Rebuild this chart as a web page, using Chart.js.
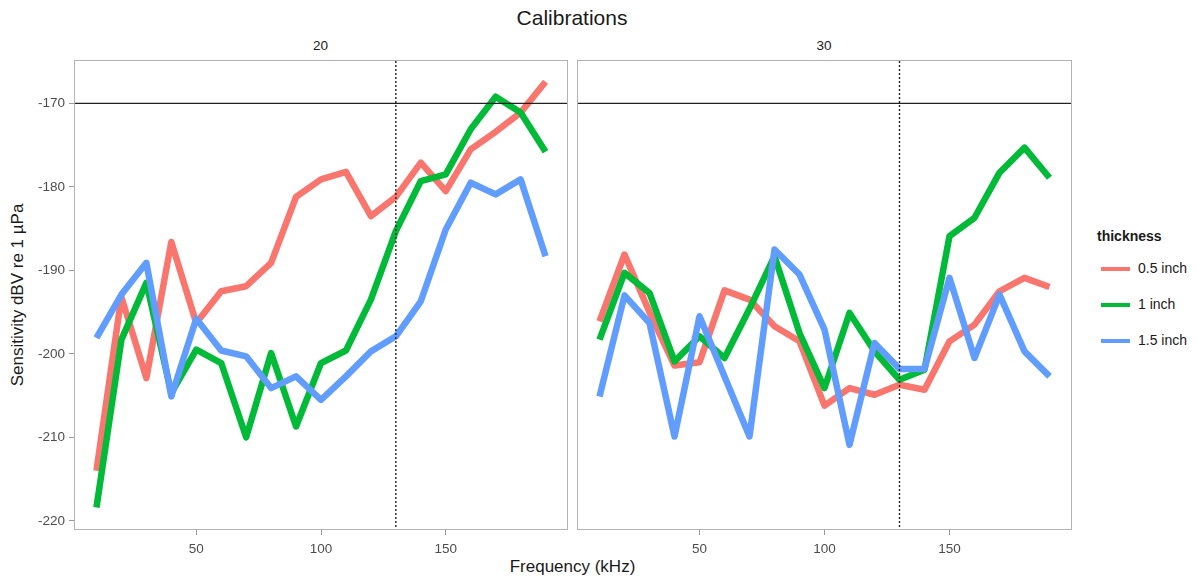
<!DOCTYPE html>
<html>
<head>
<meta charset="utf-8">
<script src="https://cdn.jsdelivr.net/npm/chart.js@4"></script>
<style>
  body { margin: 0; background: #fff; font-family: "Liberation Sans", Arial, sans-serif; }
  #wrap { position: relative; width: 1198px; height: 580px; }
  canvas { position: absolute; top: 0; }
  .txt { position: absolute; color: #1a1a1a; white-space: nowrap; }
  .sw { position: absolute; width: 29px; height: 4px; }
</style>
</head>
<body>
<div id="wrap">
  <div class="txt" style="left:0;width:1144px;top:6px;text-align:center;font-size:21px;">Calibrations</div>
  <div class="txt" style="left:74px;width:493px;top:38px;text-align:center;font-size:13.5px;">20</div>
  <div class="txt" style="left:577px;width:494px;top:38px;text-align:center;font-size:13.5px;">30</div>
  <div class="txt" style="left:74px;width:997px;top:557px;text-align:center;font-size:17px;">Frequency (kHz)</div>
  <div class="txt" style="left:18px;top:295px;font-size:17px;transform:translate(-50%,-50%) rotate(-90deg);">Sensitivity dBV re 1 µPa</div>
  <canvas id="p20" width="568" height="580" style="left:0"></canvas>
  <canvas id="p30" width="495" height="580" style="left:577px"></canvas>
  <div id="legend"></div>
</div>
<script>
// data
const freq = [10, 20, 30, 40, 50, 60, 70, 80, 90, 100, 110, 120, 130, 140, 150, 160, 170, 180, 190];
const thickness = ['0.5 inch', '1 inch', '1.5 inch'];
const colors = ['#F8766D', '#00BA38', '#619CFF'];

// depth 20
const d20_half = [-214.0, -193.2, -202.9, -186.6, -196.3, -192.5, -191.9, -189.1, -181.2, -179.1, -178.2, -183.5, -181.2, -177.1, -180.5, -175.5, -173.4, -171.1, -167.4];
const d20_one  = [-218.4, -198.3, -191.5, -204.7, -199.5, -201.1, -210.0, -199.9, -208.7, -201.1, -199.6, -193.5, -185.3, -179.3, -178.5, -173.1, -169.2, -171.1, -175.8];
const d20_oneHalf = [-198.1, -192.9, -189.1, -205.1, -195.8, -199.6, -200.3, -204.1, -202.7, -205.5, -202.7, -199.7, -197.9, -193.7, -185.1, -179.5, -180.9, -179.1, -188.3];

// depth 30
const d30_half = [-196.1, -188.1, -195.0, -201.4, -201.0, -192.4, -193.5, -196.7, -198.5, -206.2, -204.1, -204.9, -203.7, -204.3, -198.5, -196.5, -192.5, -190.9, -192.0];
const d30_one  = [-198.3, -190.3, -192.7, -200.9, -197.9, -200.5, -194.6, -188.3, -197.5, -204.1, -195.1, -199.7, -203.1, -201.9, -185.9, -183.7, -178.3, -175.3, -178.9];
const d30_oneHalf = [-205.1, -193.0, -196.3, -209.9, -195.5, -202.7, -209.9, -187.5, -190.5, -197.1, -210.9, -198.7, -201.8, -201.8, -190.9, -200.5, -192.9, -199.7, -202.7];

const xTicks = [50, 100, 150];
const yTicks = [-220, -210, -200, -190, -180, -170];
const refLevel = -170;
const refFreq = 130;

const refLines = {
  id: 'refLines',
  beforeDatasetsDraw(chart) {
    const a = chart.chartArea, ctx = chart.ctx;
    ctx.save();
    ctx.strokeStyle = '#b3b3b3';
    ctx.lineWidth = 1;
    ctx.strokeRect(a.left + 0.5, a.top + 0.5, a.right - a.left - 1, a.bottom - a.top - 1);
    ctx.restore();
  },
  afterDatasetsDraw(chart) {
    const a = chart.chartArea, ctx = chart.ctx;
    const y = chart.scales.y.getPixelForValue(refLevel);
    const x = chart.scales.x.getPixelForValue(refFreq);
    ctx.save();
    ctx.strokeStyle = '#222';
    ctx.lineWidth = 1.4;
    ctx.beginPath();
    ctx.moveTo(a.left + 1, y);
    ctx.lineTo(a.right - 1, y);
    ctx.stroke();
    ctx.setLineDash([2, 2]);
    ctx.beginPath();
    ctx.moveTo(x, a.top + 1);
    ctx.lineTo(x, a.bottom - 1);
    ctx.stroke();
    ctx.restore();
  }
};

function makePanel(id, series, showY) {
  const datasets = series.map((vals, i) => ({
    label: thickness[i],
    data: freq.map((f, j) => ({ x: f, y: vals[j] })),
    borderColor: colors[i],
    borderWidth: 6.5,
    borderJoinStyle: 'round',
    pointRadius: 0,
    tension: 0,
    order: 2 - i
  }));
  return new Chart(document.getElementById(id), {
    type: 'line',
    data: { datasets: datasets },
    options: {
      responsive: false,
      animation: false,
      devicePixelRatio: 1,
      layout: { padding: { top: 60, left: 0, right: 0, bottom: 0 } },
      plugins: { legend: { display: false }, tooltip: { enabled: false } },
      scales: {
        x: {
          type: 'linear',
          min: 1, max: 199,
          afterBuildTicks: s => { s.ticks = xTicks.map(v => ({ value: v })); },
          afterFit: s => { s.height = 50; },
          border: { display: false },
          grid: { drawOnChartArea: false, drawTicks: true, tickLength: 5, color: '#999' },
          ticks: { color: '#4d4d4d', padding: 6, font: { family: 'Liberation Sans', size: 13.5 } }
        },
        y: {
          display: showY,
          min: -221.1, max: -164.8,
          afterBuildTicks: s => { s.ticks = yTicks.map(v => ({ value: v })); },
          afterFit: s => { s.width = showY ? 74 : 0; },
          border: { display: false },
          grid: { drawOnChartArea: false, drawTicks: true, tickLength: 5, color: '#999' },
          ticks: { color: '#4d4d4d', padding: 4, font: { family: 'Liberation Sans', size: 13.5 } }
        }
      }
    },
    plugins: [refLines]
  });
}

makePanel('p20', [d20_half, d20_one, d20_oneHalf], true);
makePanel('p30', [d30_half, d30_one, d30_oneHalf], false);

// legend
const lg = document.getElementById('legend');
let html = '<div class="txt" style="left:1097px;top:228px;font-size:14px;font-weight:bold;">thickness</div>';
thickness.forEach((t, i) => {
  const cy = 269 + i * 36;
  html += '<div class="sw" style="left:1101px;top:' + (cy - 2) + 'px;background:' + colors[i] + '"></div>';
  html += '<div class="txt" style="left:1138px;top:' + (cy - 9) + 'px;font-size:14px;">' + t + '</div>';
});
lg.innerHTML = html;
</script>
</body>
</html>
